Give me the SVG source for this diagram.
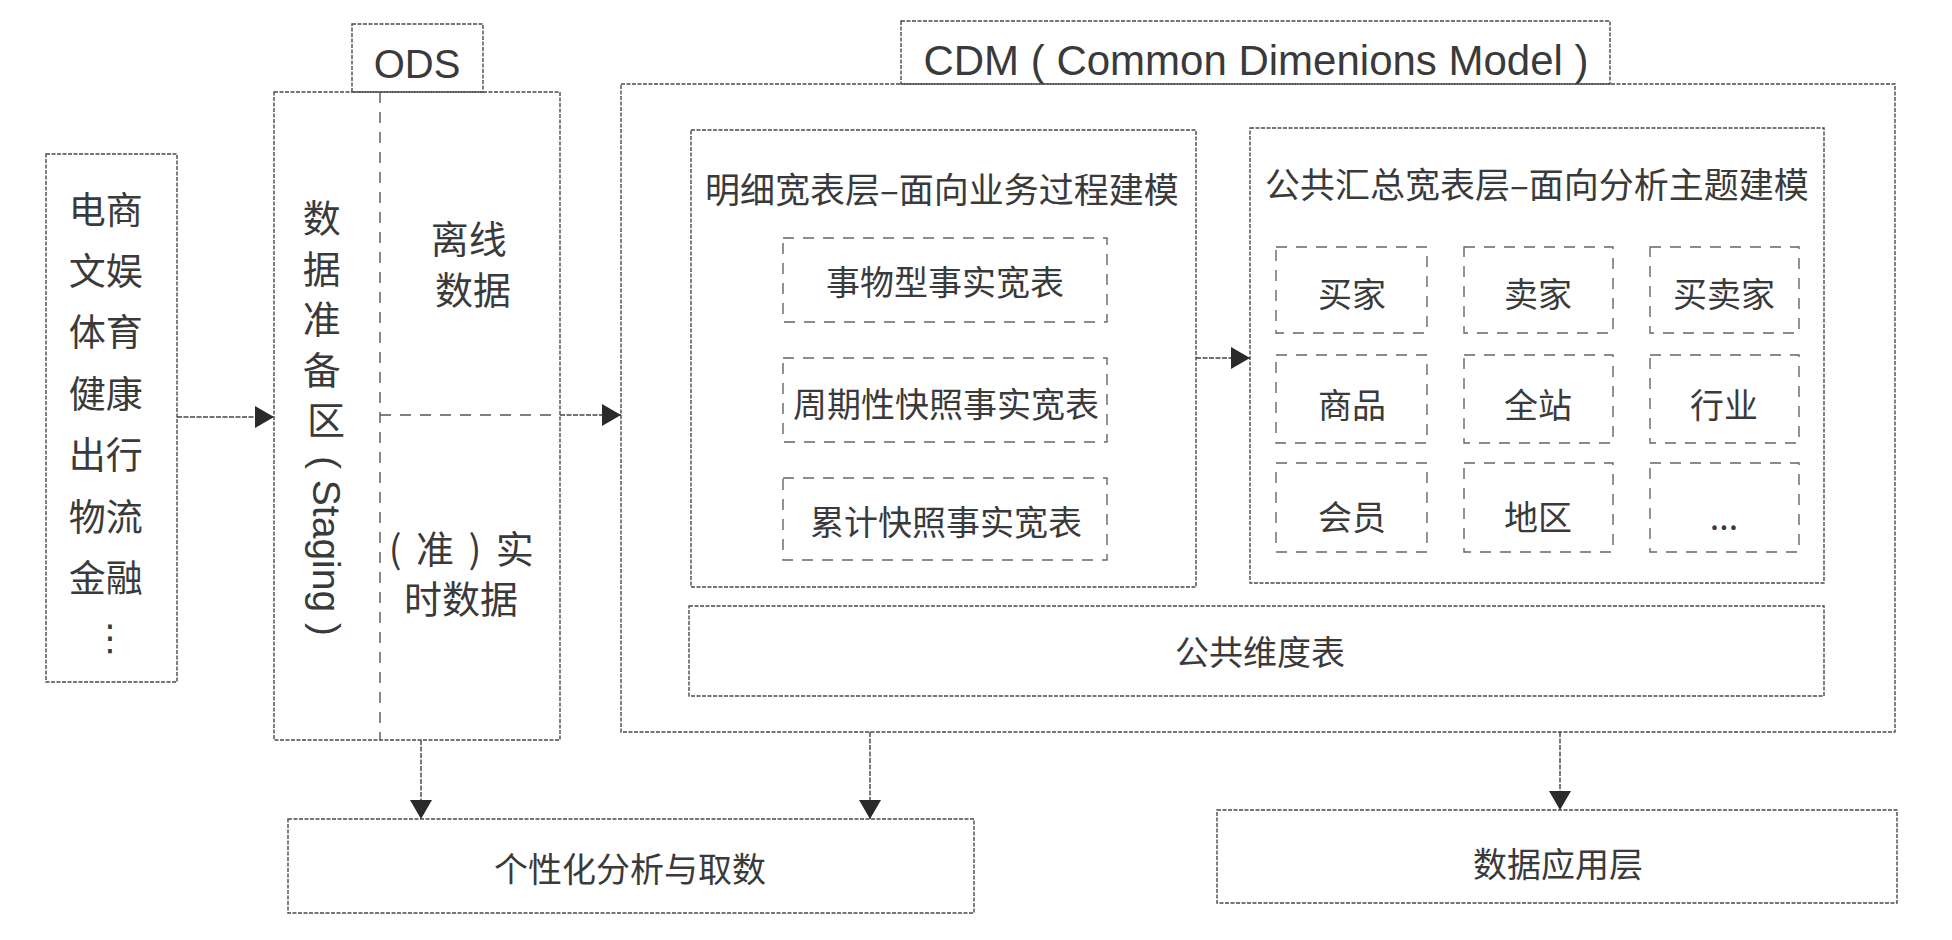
<svg xmlns="http://www.w3.org/2000/svg" width="1952" height="940" viewBox="0 0 1952 940">
<style>
.box{fill:none;stroke:#4a4a4a;stroke-width:1.4;stroke-dasharray:4 1.5}
.ibox{fill:none;stroke:#666;stroke-width:1.4;stroke-dasharray:11 9}
.div{fill:none;stroke:#555;stroke-width:1.4;stroke-dasharray:11 9}
.t{font-family:"Noto Sans CJK SC","Noto Sans",sans-serif;fill:#3a3a3a;text-anchor:middle;dominant-baseline:central;font-size:34px}
.ttl{font-size:35px}
.lat{font-family:"Liberation Sans","Noto Sans CJK SC",sans-serif;fill:#3a3a3a;text-anchor:middle}
.con{fill:none;stroke:#444;stroke-width:1.4;stroke-dasharray:5 1.5}
</style>
<defs>
<marker id="arr" markerUnits="userSpaceOnUse" markerWidth="20" markerHeight="22" refX="19" refY="11" orient="auto">
<path d="M0,0 L19,11 L0,22 Z" fill="#2a2a2a"/>
</marker>
</defs>
<rect width="1952" height="940" fill="#ffffff"/>

<g id="source">
<rect class="box" x="46" y="154" width="131" height="528"/>
<text class="t" style="font-size:37px">
<tspan x="110" y="208">电商</tspan>
<tspan x="110" y="269">文娱</tspan>
<tspan x="110" y="330">体育</tspan>
<tspan x="110" y="392">健康</tspan>
<tspan x="110" y="453">出行</tspan>
<tspan x="110" y="515">物流</tspan>
<tspan x="110" y="576">金融</tspan>
<tspan x="110" y="637" style="font-family:'DejaVu Sans',sans-serif;font-size:36px">⋮</tspan>
</text>
</g>

<g id="ods">
<rect class="box" x="352" y="24" width="131" height="68"/>
<text class="lat" x="417" y="78" style="font-size:40px">ODS</text>
<rect class="box" x="274" y="92" width="286" height="648"/>
<line class="div" x1="380" y1="92" x2="380" y2="740"/>
<line class="div" x1="380" y1="415" x2="560" y2="415"/>
<text class="t" style="font-size:38px">
<tspan x="326" y="215">数</tspan>
<tspan x="326" y="266">据</tspan>
<tspan x="326" y="316">准</tspan>
<tspan x="326" y="367">备</tspan>
<tspan x="326" y="417">区</tspan>
</text>
<text class="lat" x="326" y="546" transform="rotate(90 326 546)" style="font-size:39px;dominant-baseline:central">( Staging )</text>
<text class="t" style="font-size:38px">
<tspan x="473" y="236">离线</tspan>
<tspan x="473" y="287">数据</tspan>
</text>
<text class="t" style="font-size:38px">
<tspan x="467" y="546" style="letter-spacing:3px">( 准 ) 实</tspan>
<tspan x="461" y="596">时数据</tspan>
</text>
</g>

<g id="cdm">
<rect class="box" x="901" y="21" width="709" height="63"/>
<text class="lat" x="1256" y="75" style="font-size:42px">CDM ( Common Dimenions Model )</text>
<rect class="box" x="621" y="84" width="1274" height="648"/>
</g>

<g id="detail">
<rect class="box" x="691" y="130" width="505" height="457"/>
<text class="t ttl" x="942" y="187">明细宽表层–面向业务过程建模</text>
<rect class="ibox" x="783" y="238" width="324" height="84"/>
<text class="t" x="945" y="280">事物型事实宽表</text>
<rect class="ibox" x="783" y="358" width="324" height="84"/>
<text class="t" x="946" y="402">周期性快照事实宽表</text>
<rect class="ibox" x="783" y="478" width="324" height="82"/>
<text class="t" x="946" y="520">累计快照事实宽表</text>
</g>

<g id="summary">
<rect class="box" x="1250" y="128" width="574" height="455"/>
<text class="t ttl" x="1537" y="182">公共汇总宽表层–面向分析主题建模</text>
<rect class="ibox" x="1276" y="247" width="151" height="86"/>
<rect class="ibox" x="1464" y="247" width="149" height="86"/>
<rect class="ibox" x="1650" y="247" width="149" height="86"/>
<rect class="ibox" x="1276" y="355" width="151" height="88"/>
<rect class="ibox" x="1464" y="355" width="149" height="88"/>
<rect class="ibox" x="1650" y="355" width="149" height="88"/>
<rect class="ibox" x="1276" y="463" width="151" height="89"/>
<rect class="ibox" x="1464" y="463" width="149" height="89"/>
<rect class="ibox" x="1650" y="463" width="149" height="89"/>
<text class="t" x="1352" y="292">买家</text>
<text class="t" x="1538" y="292">卖家</text>
<text class="t" x="1724" y="292">买卖家</text>
<text class="t" x="1352" y="403">商品</text>
<text class="t" x="1538" y="403">全站</text>
<text class="t" x="1724" y="403">行业</text>
<text class="t" x="1352" y="515">会员</text>
<text class="t" x="1538" y="515">地区</text>
<text class="t" x="1724" y="515">...</text>
</g>

<g id="dim">
<rect class="box" x="689" y="606" width="1135" height="90"/>
<text class="t" x="1260" y="650">公共维度表</text>
</g>

<g id="adhoc">
<rect class="box" x="288" y="819" width="686" height="94"/>
<text class="t" x="630" y="867">个性化分析与取数</text>
</g>

<g id="app">
<rect class="box" x="1217" y="810" width="680" height="93"/>
<text class="t" x="1558" y="862">数据应用层</text>
</g>

<g id="connectors">
<line class="con" x1="177" y1="417" x2="274" y2="417" marker-end="url(#arr)"/>
<line class="con" x1="560" y1="415" x2="621" y2="415" marker-end="url(#arr)"/>
<line class="con" x1="1196" y1="358" x2="1250" y2="358" marker-end="url(#arr)"/>
<line class="con" x1="421" y1="740" x2="421" y2="819" marker-end="url(#arr)"/>
<line class="con" x1="870" y1="732" x2="870" y2="819" marker-end="url(#arr)"/>
<line class="con" x1="1560" y1="732" x2="1560" y2="810" marker-end="url(#arr)"/>
</g>
</svg>
